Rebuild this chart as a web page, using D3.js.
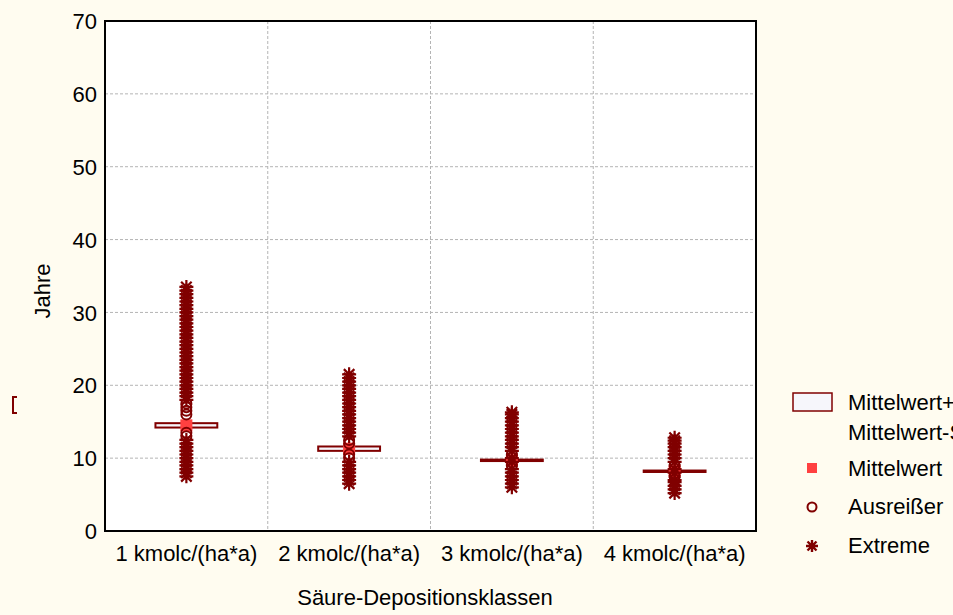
<!DOCTYPE html>
<html><head><meta charset="utf-8">
<script src="https://cdn.jsdelivr.net/npm/d3@7"></script>
<style>body{margin:0;background:#fffcf0;overflow:hidden}svg{display:block}</style>
</head><body>
<svg id="c" width="953" height="615"></svg>
<script>
const categories = ["1 kmolc/(ha*a)", "2 kmolc/(ha*a)", "3 kmolc/(ha*a)", "4 kmolc/(ha*a)"];
const means = [14.5, 11.3, 9.7, 8.2];
const boxLow = [14.2, 11.0, 9.6, 8.1];
const boxHigh = [14.8, 11.6, 9.8, 8.3];
const outliers = [
  [13.0, 13.5, 16.0, 16.5, 17.0, 17.5],
  [10.0, 10.5, 12.0, 12.5],
  [9.0, 10.5],
  [7.5, 9.0]
];
const extremes = [
  [7.5, 8.0, 8.5, 9.0, 9.5, 10.0, 10.5, 11.0, 11.5, 12.0, 12.5, 18.0, 18.5, 19.0, 19.5, 20.0, 20.5, 21.0, 21.5, 22.0, 22.5, 23.0, 23.5, 24.0, 24.5, 25.0, 25.5, 26.0, 26.5, 27.0, 27.5, 28.0, 28.5, 29.0, 29.5, 30.0, 30.5, 31.0, 31.5, 32.0, 32.5, 33.0, 33.5],
  [6.5, 7.0, 7.5, 8.0, 8.5, 9.0, 9.5, 13.0, 13.5, 14.0, 14.5, 15.0, 15.5, 16.0, 16.5, 17.0, 17.5, 18.0, 18.5, 19.0, 19.5, 20.0, 20.5, 21.0, 21.5],
  [6.0, 6.5, 7.0, 7.5, 8.0, 8.5, 9.5, 10.0, 11.0, 11.5, 12.0, 12.5, 13.0, 13.5, 14.0, 14.5, 15.0, 15.5, 16.0, 16.3],
  [5.2, 5.7, 6.2, 6.7, 7.0, 8.0, 8.5, 9.5, 10.0, 10.5, 11.0, 11.5, 12.0, 12.4, 12.8]
];
const yTicks = [0, 10, 20, 30, 40, 50, 60, 70];
const legendLabels = ["Mittelwert+Stdf.", "Mittelwert-Stdf.", "Mittelwert", "Ausreißer", "Extreme"];

const dark = "#800000", red = "#ff4040";
const svg = d3.select("#c");
const L = 105, R = 756, T = 21, B = 531;
const x = d3.scaleBand().domain(categories).range([L, R]);
const y = d3.scaleLinear().domain([0, 70]).range([B, T]);
const font = "'Liberation Sans', Arial, sans-serif";
const fs = 22;

svg.append("rect").attr("x", L).attr("y", T).attr("width", R - L).attr("height", B - T).attr("fill", "#fff");

// grid
svg.append("g").selectAll("line").data(yTicks.slice(1, -1)).join("line")
  .attr("x1", L).attr("x2", R).attr("y1", d => y(d)).attr("y2", d => y(d))
  .attr("stroke", "#b4b4b4").attr("stroke-dasharray", "3,2").attr("stroke-width", 1);
svg.append("g").selectAll("line").data(categories.slice(1)).join("line")
  .attr("x1", d => x(d)).attr("x2", d => x(d)).attr("y1", T).attr("y2", B)
  .attr("stroke", "#b4b4b4").attr("stroke-dasharray", "3,2").attr("stroke-width", 1);

// axes
const ya = svg.append("g").attr("transform", `translate(${L},0)`)
  .call(d3.axisLeft(y).tickValues(yTicks).tickSize(0).tickPadding(8));
ya.select(".domain").remove();
ya.selectAll("text").attr("font-family", font).attr("font-size", fs).attr("fill", "#000").attr("dy", "0.35em");
const xa = svg.append("g").attr("transform", `translate(0,${B})`)
  .call(d3.axisBottom(x).tickSize(0).tickPadding(14));
xa.select(".domain").remove();
xa.selectAll("text").attr("font-family", font).attr("font-size", fs).attr("fill", "#000");

svg.append("text").attr("x", 425).attr("y", 605).attr("text-anchor", "middle")
  .attr("font-family", font).attr("font-size", fs).text("Säure-Depositionsklassen");
svg.append("text").attr("transform", "translate(50,291) rotate(-90)").attr("text-anchor", "middle")
  .attr("font-family", font).attr("font-size", fs).text("Jahre");

const bw = x.bandwidth() * 0.38;
const cx = i => x(categories[i]) + x.bandwidth() / 2;

// boxes
svg.append("g").selectAll("rect").data(categories).join("rect")
  .attr("x", (d, i) => cx(i) - bw / 2).attr("width", bw)
  .attr("y", (d, i) => y(boxHigh[i])).attr("height", (d, i) => Math.max(1, y(boxLow[i]) - y(boxHigh[i])))
  .attr("fill", "#f6f6fb").attr("stroke", dark).attr("stroke-width", 2);

// means
svg.append("g").selectAll("rect").data(categories).join("rect")
  .attr("x", (d, i) => cx(i) - 6).attr("y", (d, i) => y(means[i]) - 6)
  .attr("width", 12).attr("height", 12).attr("fill", red);

function star(g, px, py, s, w) {
  g.append("path").attr("d",
    `M${px - s},${py}H${px + s}M${px},${py - s}V${py + s}` +
    `M${px - s * 0.75},${py - s * 0.75}L${px + s * 0.75},${py + s * 0.75}` +
    `M${px + s * 0.75},${py - s * 0.75}L${px - s * 0.75},${py + s * 0.75}`)
    .attr("stroke", dark).attr("stroke-width", w).attr("fill", "none");
}

// outliers
outliers.forEach((arr, i) => {
  svg.append("g").selectAll("circle").data(arr).join("circle")
    .attr("cx", cx(i)).attr("cy", d => y(d)).attr("r", 5)
    .attr("fill", "none").attr("stroke", dark).attr("stroke-width", 2);
});
// extremes
extremes.forEach((arr, i) => {
  const g = svg.append("g");
  arr.forEach(v => star(g, cx(i), y(v), 7, 2.2));
});

// frame
svg.append("rect").attr("x", L).attr("y", T).attr("width", R - L).attr("height", B - T)
  .attr("fill", "none").attr("stroke", "#000").attr("stroke-width", 2);

// legend
const lg = svg.append("g");
lg.append("rect").attr("x", 793).attr("y", 393).attr("width", 39).attr("height", 18)
  .attr("fill", "#f6f6fb").attr("stroke", dark).attr("stroke-width", 1.5);
const lt = [[402, 0], [432, 1], [468, 2], [506, 3], [545, 4]];
lt.forEach(([ty, k]) => lg.append("text").attr("x", 848).attr("y", ty).attr("dy", "0.35em")
  .attr("font-family", font).attr("font-size", fs).text(legendLabels[k]));
lg.append("rect").attr("x", 807).attr("y", 463).attr("width", 10).attr("height", 10).attr("fill", red);
lg.append("circle").attr("cx", 812).attr("cy", 507).attr("r", 4.5).attr("fill", "none").attr("stroke", dark).attr("stroke-width", 2);
star(lg, 812, 546, 6, 2.4);

// stray bracket
svg.append("path").attr("d", "M17,397H13V413H17").attr("fill", "none").attr("stroke", dark).attr("stroke-width", 2);
</script>
</body></html>
